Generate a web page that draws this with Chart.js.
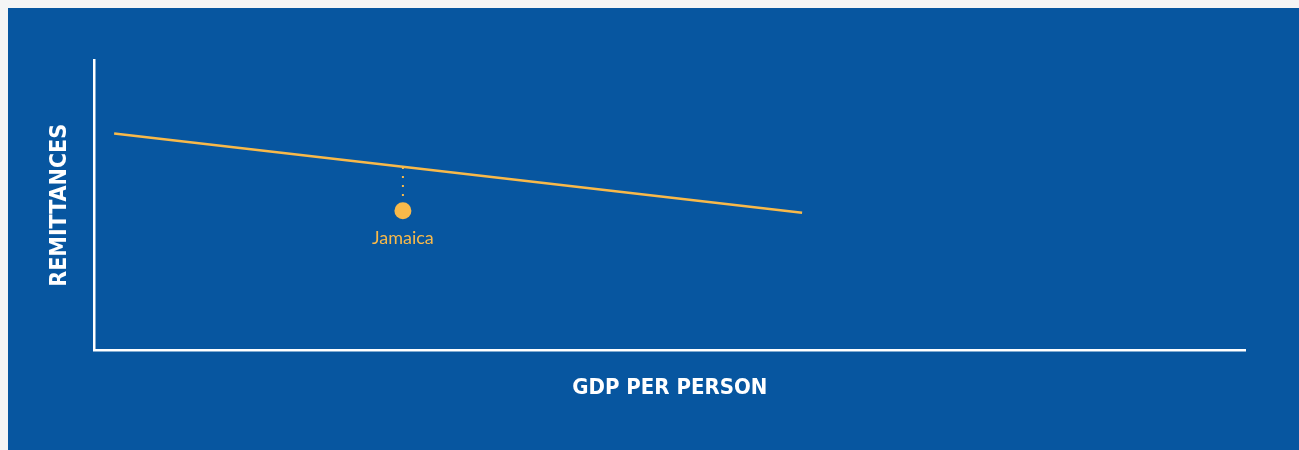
<!DOCTYPE html>
<html>
<head>
<meta charset="utf-8">
<script src="https://cdn.jsdelivr.net/npm/chart.js@4/dist/chart.umd.min.js"></script>
<style>
  html, body { margin: 0; padding: 0; background: #f5f5f5; }
  #wrap { position: absolute; left: 8px; top: 8px; width: 1291px; height: 442px; background: #0756a0; }
</style>
</head>
<body>
<div id="wrap"><canvas id="chart" width="1291" height="442"></canvas></div>
<script>
// values on a 0-100 scale
const trendX = [1.7, 61.5];
const trendY = [74.7, 47.4];
const countryName = ["Jamaica"];
const countryX = [26.8];
const countryY = [48.1];
const connectorY = [63.2, 51.6];

const yellow = "#f8b94a";
const white = "#ffffff";

const labelPlugin = {
  id: "pointLabels",
  afterDatasetsDraw(chart) {
    const ctx = chart.ctx;
    const xs = chart.scales.x, ys = chart.scales.y;
    ctx.save();
    ctx.fillStyle = yellow;
    ctx.font = "18px Lato";
    ctx.textAlign = "center";
    ctx.textBaseline = "middle";
    countryName.forEach((name, i) => {
      ctx.fillText(name, xs.getPixelForValue(countryX[i]), ys.getPixelForValue(countryY[i]) + 27);
    });
    ctx.restore();
  }
};

new Chart(document.getElementById("chart"), {
  type: "scatter",
  data: {
    datasets: [
      {
        data: trendX.map((x, i) => ({ x: x, y: trendY[i] })),
        showLine: true,
        borderColor: yellow,
        borderWidth: 2.5,
        pointRadius: 0
      },
      {
        data: connectorY.map(y => ({ x: countryX[0], y: y })),
        showLine: true,
        borderColor: yellow,
        borderWidth: 2,
        borderDash: [2, 7],
        pointRadius: 0
      },
      {
        data: countryX.map((x, i) => ({ x: x, y: countryY[i] })),
        backgroundColor: yellow,
        borderWidth: 0,
        pointRadius: 8.5
      }
    ]
  },
  options: {
    responsive: false,
    animation: false,
    layout: { padding: { left: 20, top: 52, right: 54, bottom: 39 } },
    plugins: { legend: { display: false }, tooltip: { enabled: false } },
    scales: {
      x: {
        min: 0, max: 100,
        grid: { display: false, drawTicks: false },
        border: { display: true, color: white, width: 2.5 },
        ticks: { display: false },
        title: {
          display: true, text: "GDP PER PERSON", color: white,
          font: { family: "DejaVu Sans Condensed", size: 22, weight: "bold", lineHeight: 1.2 },
          padding: { top: 24, bottom: 10 }
        }
      },
      y: {
        min: 0, max: 100,
        grid: { display: false, drawTicks: false },
        border: { display: true, color: white, width: 2.5 },
        ticks: { display: false },
        title: {
          display: true, text: "REMITTANCES", color: white,
          font: { family: "DejaVu Sans Condensed", size: 23, weight: "bold", lineHeight: 1.2 },
          padding: { top: 18, bottom: 21 }
        }
      }
    }
  },
  plugins: [labelPlugin]
});
</script>
</body>
</html>
